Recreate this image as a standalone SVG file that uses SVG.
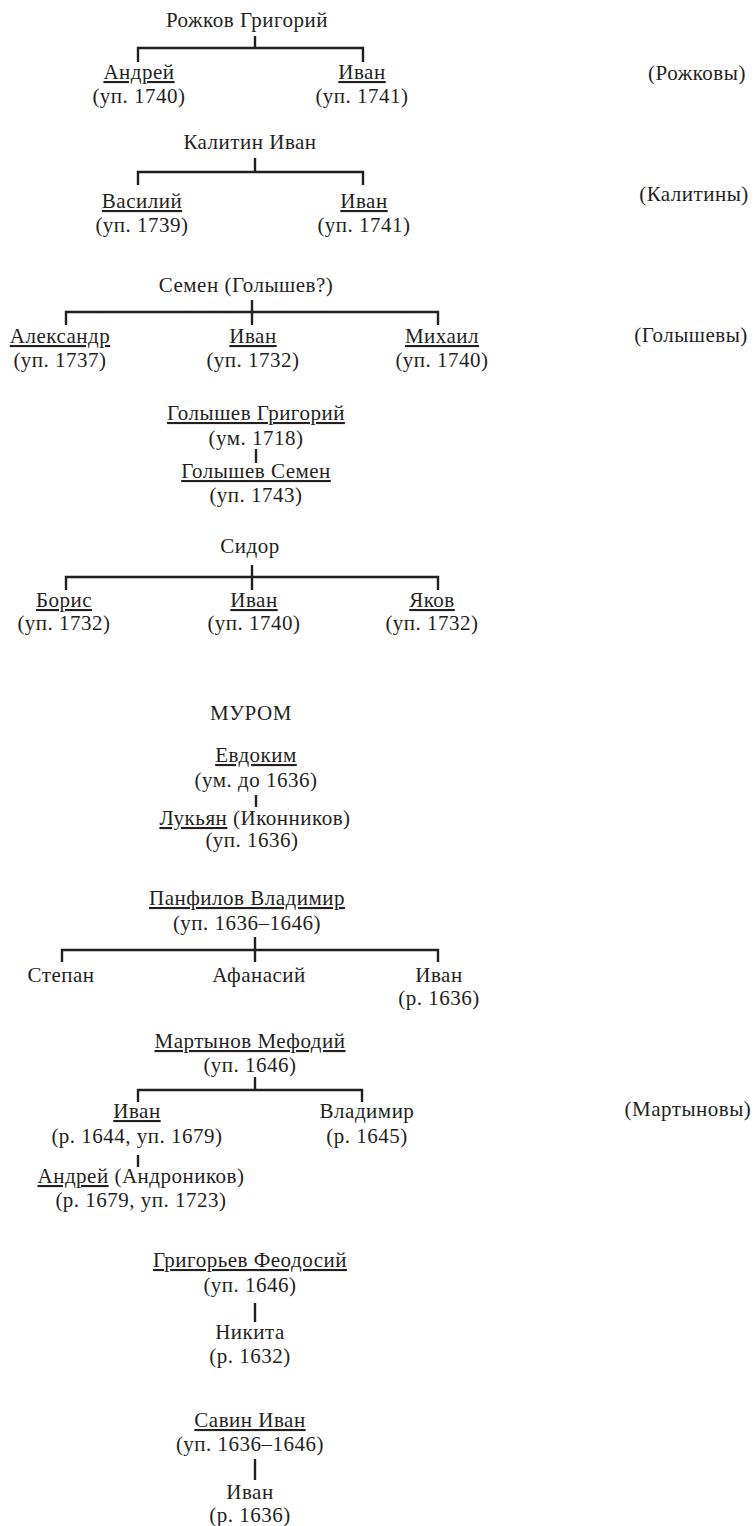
<svg xmlns="http://www.w3.org/2000/svg" width="755" height="1526" viewBox="0 0 755 1526">
<style>
text{font-family:"Liberation Serif","Times New Roman",serif;font-size:21px;fill:#231f20;text-anchor:middle;letter-spacing:0.5px}
.u{text-decoration:underline}
.c line,.c path{stroke:#231f20;stroke-width:2.4;fill:none}
</style>
<rect width="755" height="1526" fill="#fff"/>
<g id="connectors" class="c">
<line x1="255" y1="36" x2="255" y2="48"/>
<path d="M138,62 V48 H363 V62"/>
<line x1="255" y1="158" x2="255" y2="172"/>
<path d="M138,185 V172 H363 V185"/>
<line x1="252" y1="300" x2="252" y2="325"/>
<path d="M66,325 V312 H438 V325"/>
<line x1="256" y1="449" x2="256" y2="463"/>
<line x1="252" y1="565" x2="252" y2="590"/>
<path d="M66,590 V577 H438 V590"/>
<line x1="256" y1="795" x2="256" y2="807"/>
<line x1="255" y1="937" x2="255" y2="962"/>
<path d="M62,962 V950 H438 V962"/>
<line x1="255" y1="1077" x2="255" y2="1090"/>
<path d="M138,1102 V1090 H362 V1102"/>
<line x1="138" y1="1155" x2="138" y2="1167"/>
<line x1="255" y1="1303" x2="255" y2="1322"/>
<line x1="255" y1="1459" x2="255" y2="1480"/>
</g>
<g id="rozhkov-grigory"><text x="247" y="27">Рожков Григорий</text></g>
<g id="rozhkov-andrei"><text x="139" y="79" class="u">Андрей</text><text x="139" y="103">(уп. 1740)</text></g>
<g id="rozhkov-ivan"><text x="362" y="79" class="u">Иван</text><text x="362" y="103">(уп. 1741)</text></g>
<g id="label-rozhkovy"><text x="697" y="80">(Рожковы)</text></g>
<g id="kalitin-ivan"><text x="250" y="149">Калитин Иван</text></g>
<g id="kalitin-vasily"><text x="142" y="208" class="u">Василий</text><text x="142" y="232">(уп. 1739)</text></g>
<g id="kalitin-ivan2"><text x="364" y="208" class="u">Иван</text><text x="364" y="232">(уп. 1741)</text></g>
<g id="label-kalitiny"><text x="694" y="201">(Калитины)</text></g>
<g id="semen"><text x="246" y="292">Семен (Голышев?)</text></g>
<g id="semen-alexandr"><text x="60" y="343" class="u">Александр</text><text x="60" y="367">(уп. 1737)</text></g>
<g id="semen-ivan"><text x="253" y="343" class="u">Иван</text><text x="253" y="367">(уп. 1732)</text></g>
<g id="semen-mikhail"><text x="442" y="343" class="u">Михаил</text><text x="442" y="367">(уп. 1740)</text></g>
<g id="label-golyshevy"><text x="691" y="342">(Голышевы)</text></g>
<g id="golyshev-grigory"><text x="256" y="420" class="u">Голышев Григорий</text><text x="256" y="445">(ум. 1718)</text></g>
<g id="golyshev-semen"><text x="256" y="478" class="u">Голышев Семен</text><text x="256" y="502">(уп. 1743)</text></g>
<g id="sidor"><text x="250" y="553">Сидор</text></g>
<g id="sidor-boris"><text x="64" y="607" class="u">Борис</text><text x="64" y="630">(уп. 1732)</text></g>
<g id="sidor-ivan"><text x="254" y="607" class="u">Иван</text><text x="254" y="630">(уп. 1740)</text></g>
<g id="sidor-yakov"><text x="432" y="607" class="u">Яков</text><text x="432" y="630">(уп. 1732)</text></g>
<g id="murom"><text x="251" y="720">МУРОМ</text></g>
<g id="evdokim"><text x="256" y="762" class="u">Евдоким</text><text x="256" y="787">(ум. до 1636)</text></g>
<g id="lukyan"><text x="255" y="825"><tspan class="u">Лукьян</tspan> (Иконников)</text><text x="252" y="847">(уп. 1636)</text></g>
<g id="panfilov"><text x="247" y="905" class="u">Панфилов Владимир</text><text x="247" y="930">(уп. 1636–1646)</text></g>
<g id="panfilov-stepan"><text x="61" y="982">Степан</text></g>
<g id="panfilov-afanasy"><text x="259" y="982">Афанасий</text></g>
<g id="panfilov-ivan"><text x="439" y="982">Иван</text><text x="439" y="1005">(р. 1636)</text></g>
<g id="martynov"><text x="250" y="1048" class="u">Мартынов Мефодий</text><text x="250" y="1072">(уп. 1646)</text></g>
<g id="martynov-ivan"><text x="137" y="1118" class="u">Иван</text><text x="137" y="1143">(р. 1644, уп. 1679)</text></g>
<g id="martynov-vladimir"><text x="367" y="1118">Владимир</text><text x="367" y="1143">(р. 1645)</text></g>
<g id="label-martynovy"><text x="688" y="1116">(Мартыновы)</text></g>
<g id="martynov-andrei"><text x="141" y="1183"><tspan class="u">Андрей</tspan> (Андроников)</text><text x="141" y="1207">(р. 1679, уп. 1723)</text></g>
<g id="grigoriev"><text x="250" y="1267" class="u">Григорьев Феодосий</text><text x="250" y="1292">(уп. 1646)</text></g>
<g id="nikita"><text x="250" y="1339">Никита</text><text x="250" y="1363">(р. 1632)</text></g>
<g id="savin"><text x="250" y="1427" class="u">Савин Иван</text><text x="250" y="1451">(уп. 1636–1646)</text></g>
<g id="savin-ivan"><text x="250" y="1499">Иван</text><text x="250" y="1522">(р. 1636)</text></g>
</svg>
